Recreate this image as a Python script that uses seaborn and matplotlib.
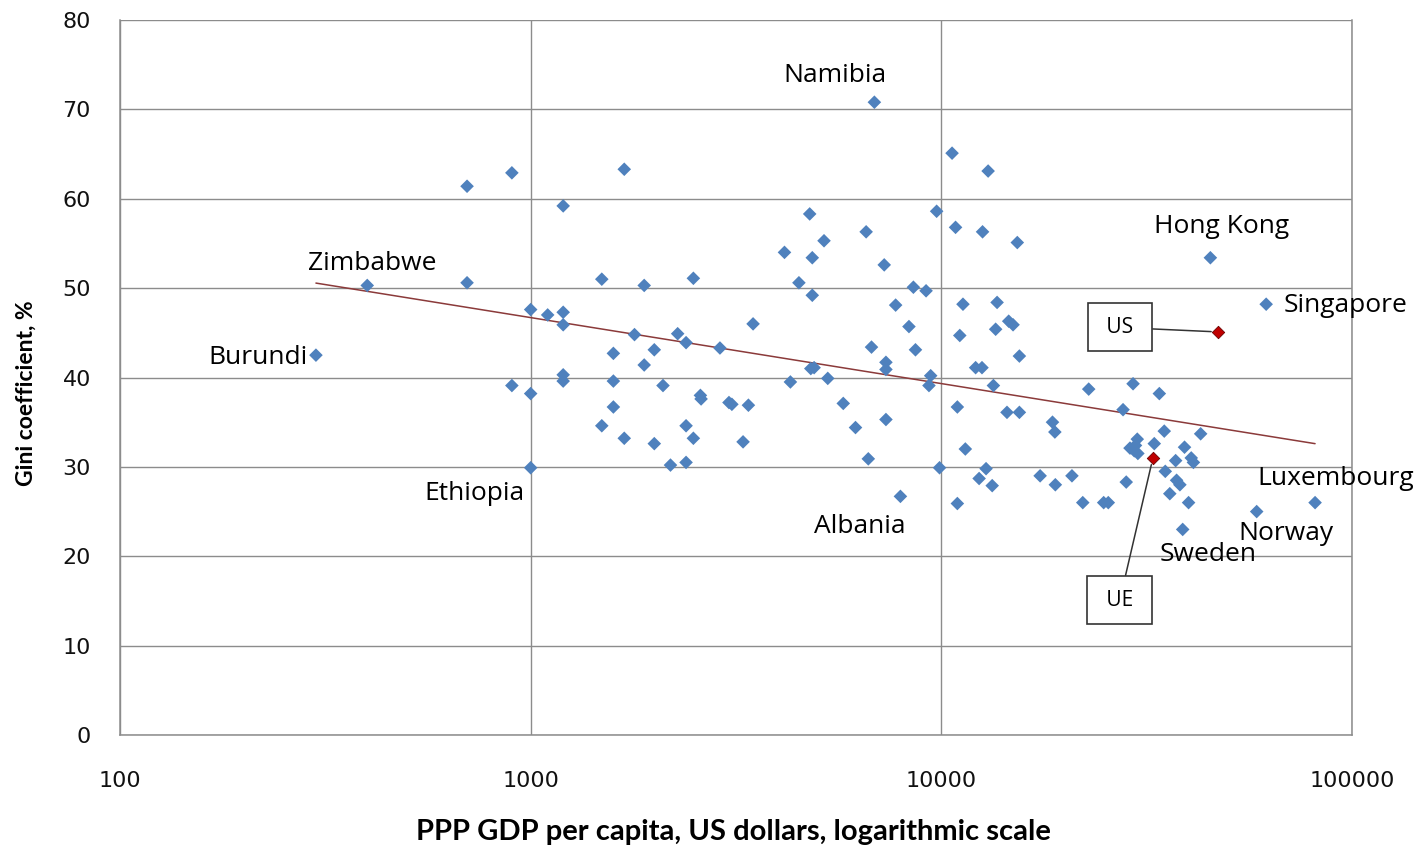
import numpy as np
import pandas as pd
import matplotlib.pyplot as plt
import seaborn as sns
from matplotlib.ticker import FixedLocator, NullLocator, FuncFormatter

# PPP GDP per capita (US$) and Gini coefficient (%)
gdp = [300, 400, 700, 700, 900, 900, 1000, 1000, 1000, 1100,
       1200, 1200, 1200, 1200, 1200, 1490, 1490, 1590, 1590, 1590,
       1690, 1690, 1790, 1890, 1890, 2000, 2000, 2100, 2190, 2280,
       2390, 2390, 2390, 2490, 2490, 2590, 2600, 2890, 3090, 3040,
       3290, 3390, 3480, 4150, 4290, 4500, 4780, 4810, 4900, 4850,
       4850, 5180, 5290, 5770, 6180, 6560, 6640, 6760, 6870, 7260,
       7330, 7330, 7330, 7740, 7950, 8340, 8550, 8650, 9180, 9330,
       9420, 9740, 9900, 10620, 10830, 10940, 10940, 11090, 11290, 11440,
       12120, 12560, 12360, 12600, 12850, 13000, 13300, 13390, 13560, 13670,
       14450, 14590, 14950, 15310, 15490, 15490, 17400, 18650, 18900, 18950,
       20800, 22100, 22850, 24850, 25500, 27700, 28200, 28800, 29300, 30000,
       30100, 29500, 29700, 33000, 33950, 34900, 35100, 36000, 37200, 37400,
       38100, 38700, 39100, 40000, 40600, 41100, 42800, 45200, 58600, 61800,
       81300]
gini = [42.5, 50.3, 61.4, 50.6, 62.9, 39.1, 47.6, 38.2, 29.9, 47.0,
        59.2, 47.3, 45.9, 40.3, 39.6, 51.0, 34.6, 42.7, 39.6, 36.7,
        63.3, 33.2, 44.8, 50.3, 41.4, 43.1, 32.6, 39.1, 30.2, 44.9,
        43.9, 34.6, 30.5, 51.1, 33.2, 38.0, 37.6, 43.3, 37.0, 37.2,
        32.8, 36.9, 46.0, 54.0, 39.5, 50.6, 58.3, 41.0, 41.1, 53.4,
        49.2, 55.3, 39.9, 37.1, 34.4, 56.3, 30.9, 43.4, 70.8, 52.6,
        41.7, 40.9, 35.3, 48.1, 26.7, 45.7, 50.1, 43.1, 49.7, 39.1,
        40.2, 58.6, 29.9, 65.1, 56.8, 36.7, 25.9, 44.7, 48.2, 32.0,
        41.1, 41.1, 28.7, 56.3, 29.8, 63.1, 27.9, 39.1, 45.4, 48.4,
        36.1, 46.3, 45.9, 55.1, 42.4, 36.1, 29.0, 35.0, 33.9, 28.0,
        29.0, 26.0, 38.7, 26.0, 26.0, 36.4, 28.3, 32.1, 39.3, 33.1,
        31.5, 31.8, 32.4, 32.6, 38.2, 34.0, 29.5, 27.0, 30.7, 28.5,
        28.0, 23.0, 32.2, 26.0, 31.0, 30.5, 33.7, 53.4, 25.0, 48.2,
        26.0]

# highlighted economies
highlight_names = ["US", "UE"]
highlight_gdp = [47200, 32750]
highlight_gini = [45.1, 31.0]
box_x = [27200, 27200]
box_y = [45.6, 15.1]

# country labels
label_names = ["Namibia", "Zimbabwe", "Burundi", "Ethiopia", "Albania",
               "Hong Kong", "Singapore", "Luxembourg", "Norway", "Sweden"]
label_x = [5510, 411, 217, 731, 6340, 48200, 68200, 91400, 69000, 44600]
label_y = [73.8, 52.8, 42.2, 27.0, 23.3, 56.9, 48.1, 28.7, 22.6, 20.2]
label_ha = ["center", "center", "center", "center", "center",
            "center", "left", "center", "center", "center"]

x_ticks = [100, 1000, 10000, 100000]
y_ticks = [0, 10, 20, 30, 40, 50, 60, 70, 80]

sns.set_style("white")
plt.rcParams['font.family'] = ['DejaVu Sans']
plt.rcParams['text.color'] = 'black'
plt.rcParams['axes.labelcolor'] = 'black'

fig = plt.figure(figsize=(14.22, 8.48), dpi=100)
ax = fig.add_axes([120 / 1422, 1 - 735 / 848, 1232 / 1422, 715 / 848])

df = pd.DataFrame({"gdp": gdp, "gini": gini})
sns.scatterplot(data=df, x="gdp", y="gini", marker="D", s=48,
                color="#4F81BD", edgecolor="none", linewidth=0, ax=ax, zorder=3)

hl = pd.DataFrame({"gdp": highlight_gdp, "gini": highlight_gini})
sns.scatterplot(data=hl, x="gdp", y="gini", marker="D", s=40,
                color="#C00000", edgecolor="#6b0000", linewidth=0.6, ax=ax, zorder=4)

# logarithmic trend line fitted on the blue series
slope, intercept = np.polyfit(np.log(gdp), gini, 1)
xs = np.logspace(np.log10(min(gdp)), np.log10(max(gdp)), 100)
ax.plot(xs, intercept + slope * np.log(xs), color="#8B3A3A", lw=1.1, zorder=2)

ax.set_xscale("log")
ax.set_xlim(100, 100000)
ax.set_ylim(0, 80)
ax.xaxis.set_major_locator(FixedLocator(x_ticks))
ax.xaxis.set_minor_locator(NullLocator())
ax.xaxis.set_major_formatter(FuncFormatter(lambda v, p: f"{int(v)}"))
ax.yaxis.set_major_locator(FixedLocator(y_ticks))

ax.grid(True, color="#8c8c8c", lw=1.0)
ax.spines["top"].set_visible(False)
for side in ["left", "bottom", "right"]:
    ax.spines[side].set_color("#8c8c8c")
    ax.spines[side].set_linewidth(1.1)
ax.tick_params(axis="both", direction="out", length=7, width=1,
               color="#8c8c8c", labelsize=16, labelcolor="#111111")
ax.tick_params(axis="y", pad=14)
ax.tick_params(axis="x", pad=19)

ax.set_xlabel("PPP GDP per capita, US dollars, logarithmic scale",
              fontsize=21, fontweight="bold", family=["Lato", "DejaVu Sans"])
ax.set_ylabel("Gini coefficient, %", fontsize=16.5, fontweight="bold",
              family=["Lato", "DejaVu Sans"])
ax.xaxis.set_label_coords(0.498, -0.117)
ax.yaxis.set_label_coords(-0.0674, 0.478)

for name, lx, ly, ha in zip(label_names, label_x, label_y, label_ha):
    ax.text(lx, ly, name, fontsize=19, family="Open Sans", ha=ha, va="center",
            color="black", clip_on=False, zorder=5)

for name, px, py, bx, by in zip(highlight_names, highlight_gdp, highlight_gini, box_x, box_y):
    ax.annotate(" " + name + " ", xy=(px, py), xytext=(bx, by),
                fontsize=15, family="Open Sans", ha="center", va="center",
                bbox=dict(boxstyle="square,pad=0.65", fc="white", ec="#333333", lw=1.2),
                arrowprops=dict(arrowstyle="-", color="#333333", lw=1.1,
                                shrinkA=0, shrinkB=5),
                zorder=6)

fig.savefig("out.png", dpi=100)
